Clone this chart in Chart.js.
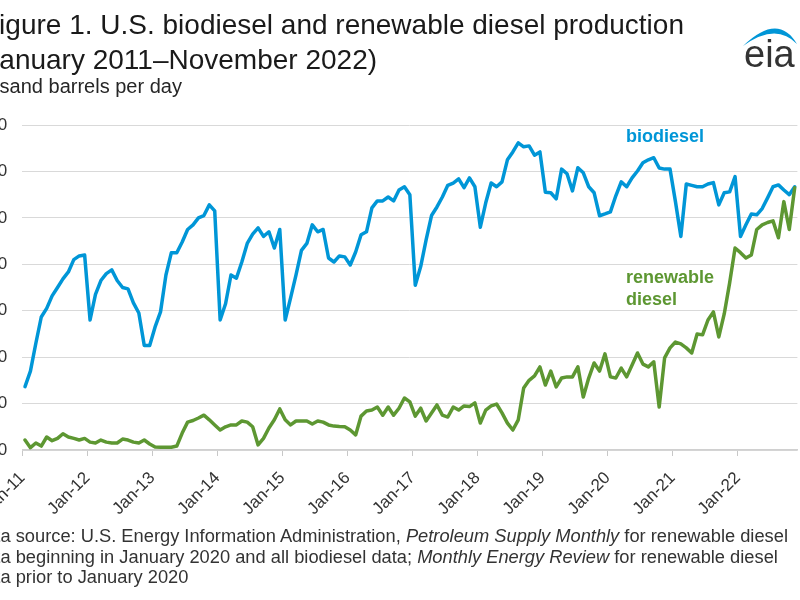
<!DOCTYPE html>
<html><head><meta charset="utf-8">
<script src="https://cdn.jsdelivr.net/npm/chart.js@4.4.0/dist/chart.umd.min.js"></script>
<style>
html,body{margin:0;padding:0;width:800px;height:600px;overflow:hidden;background:#fff;}
#wrap{position:relative;width:800px;height:600px;overflow:hidden;font-family:"Liberation Sans",Arial,sans-serif;}
#c{position:absolute;left:-40px;top:0;}
.t{position:absolute;white-space:nowrap;line-height:1;}
</style></head>
<body>
<div id="wrap">
<canvas id="c" width="840" height="600"></canvas>
<div class="t" style="left:-18px;top:11.3px;font-size:28px;color:#1a1a1a;">Figure 1. U.S. biodiesel and renewable diesel production</div>
<div class="t" style="left:-24px;top:46.3px;font-size:28px;color:#1a1a1a;">(January 2011–November 2022)</div>
<div class="t" style="left:-46px;top:76.1px;font-size:20px;color:#262626;">Thousand barrels per day</div>
<div class="t" style="left:626px;top:127px;font-size:18px;font-weight:bold;color:#0096d7;">biodiesel</div>
<div class="t" style="left:626px;top:267.5px;font-size:18px;font-weight:bold;color:#5d9732;">renewable</div>
<div class="t" style="left:626px;top:289.8px;font-size:18px;font-weight:bold;color:#5d9732;">diesel</div>
<div class="t" style="left:-28px;top:527.3px;font-size:18.3px;color:#333;">Data source: U.S. Energy Information Administration, <i>Petroleum Supply Monthly</i> for renewable diesel</div>
<div class="t" style="left:-25px;top:547.6px;font-size:18.3px;color:#333;">data beginning in January 2020 and all biodiesel data; <i>Monthly Energy Review</i> for renewable diesel</div>
<div class="t" style="left:-25px;top:567.6px;font-size:18.3px;color:#333;">data prior to January 2020</div>
<svg style="position:absolute;left:0;top:0;" width="800" height="100"><path d="M743,46 Q778,12 797,44 Q776,22 743,46 Z" fill="#0096d7"/></svg>
<div class="t" style="left:744px;top:35px;font-size:38px;color:#333;">eia</div>
</div>
<script>
// Tick labels (January of each year)
const xTickLabels = ["Jan-11","Jan-12","Jan-13","Jan-14","Jan-15","Jan-16","Jan-17","Jan-18","Jan-19","Jan-20","Jan-21","Jan-22"];
const yTicks = [0,20,40,60,80,100,120,140];
// Monthly values, Jan 2011 – Nov 2022 (thousand barrels per day)
const biodiesel = [
27.3,34,46,57.3,61,66.4,70,73.7,76.7,82,83.6,84,
56,67,73,76,77.6,73,70,69.4,63.4,59,45,45,
53,59.5,75.4,85,85,89.6,95,97,100,101,105.6,103,
56,63,75.4,74,81,89,93,95.7,92,94,87,95,
56,65.5,75.4,86,89,97,94,95,82.7,81,83.6,83.2,
79.7,85.3,92.7,94,104.3,107.3,107.3,109,107.3,112,113.4,110,
71,79,90.5,101,104.7,109,114,115,116.8,113,117.2,113.4,
96,106.5,115,113.4,115.5,125,128.4,132.3,130.6,131,127,128.4,
111,110.8,108.2,121,119,111.6,121.6,119.4,113.4,110.8,100.9,101.7,
102.6,109.5,115.5,113.4,117.2,120.2,123.7,125,125.9,121.5,121,121,
107,92,114.6,114,113.4,113.4,114.6,115.2,105.6,110.8,111.2,117.8,
92,97,101.7,101.3,104,108.6,113.4,114.2,112,110,113.4
];
const renewableDiesel = [
4.3,1,3,1.7,5.6,4,5,7,5.6,5,4.3,5,
3.4,3,4.3,3.4,3,3,4.7,4.3,3.4,3,4.3,2.6,
1.3,1.2,1.2,1.2,1.7,7.3,12,12.7,13.8,15,13,10.8,
8.6,10,10.8,10.8,12.5,12,10,2.2,5,9.5,13,17.7,
13,10.8,12.5,12.5,12.5,11.2,12.5,12,10.8,10.3,10.1,10,
8.6,6.5,14.6,16.8,17.2,18.5,15,18.5,15,18,22.4,20.7,
14.6,18,12.5,15.9,19.4,15,14.2,18.5,17.2,19,18.7,20.3,
11.6,17.2,19,19.8,16,11.6,8.6,13,26.7,30,31.9,35.8,
28,34,27.2,31,31.5,31.5,35.8,22.8,31,37.5,34,41.4,
31.5,31,35.3,31.5,36.6,41.8,37,35.8,38,18.5,39.7,44,
46.5,45.7,44,41.8,50,49.6,56,59.5,48.7,58.6,72,87,
85,82.7,84,95,97,98,98.7,91.4,107,95,113
];
const nMonths = 143;
const toPts = arr => arr.map((v,i)=>({x:i+0.5,y:v}));

new Chart(document.getElementById('c'), {
  type:'line',
  data:{datasets:[
    {label:'renewable diesel',data:toPts(renewableDiesel),borderColor:'#5d9732',borderWidth:3.5,pointRadius:0,tension:0,borderJoinStyle:'round',borderCapStyle:'round',order:0},
    {label:'biodiesel',data:toPts(biodiesel),borderColor:'#0096d7',borderWidth:3.5,pointRadius:0,tension:0,borderJoinStyle:'round',borderCapStyle:'round',order:1}
  ]},
  options:{
    responsive:false,animation:false,devicePixelRatio:1,
    layout:{padding:{top:125,right:2.6,left:0,bottom:0}},
    plugins:{legend:{display:false},tooltip:{enabled:false}},
    scales:{
      x:{type:'linear',min:0,max:nMonths,
        afterBuildTicks:s=>{s.ticks=xTickLabels.map((_,k)=>({value:k*12}));},
        afterFit:s=>{s.height=150;},
        ticks:{autoSkip:false,minRotation:45,maxRotation:45,color:'#333',font:{family:'Liberation Sans',size:17},padding:12,
          callback:v=>xTickLabels[Math.round(v/12)]},
        grid:{drawOnChartArea:false,drawTicks:true,tickLength:6,color:'#c8c8c8'},
        border:{display:true,color:'#d0d0d0',width:1.5}
      },
      y:{min:0,max:140,
        afterBuildTicks:s=>{s.ticks=yTicks.map(v=>({value:v}));},
        afterFit:s=>{s.width=62.3;},
        ticks:{color:'#333',font:{family:'Liberation Sans',size:17},padding:15},
        grid:{color:'#d9d9d9',drawTicks:false},
        border:{display:false}
      }
    }
  }
});
</script>
</body></html>
